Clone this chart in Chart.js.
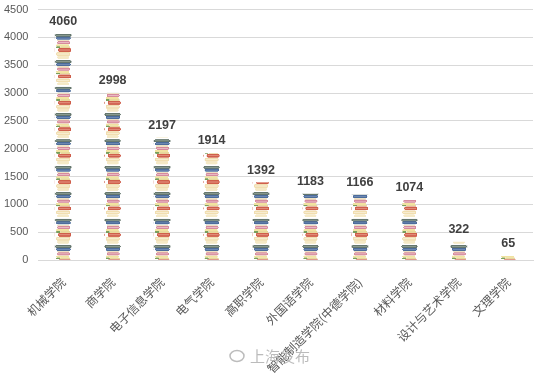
<!DOCTYPE html>
<html>
<head>
<meta charset="utf-8">
<script src="https://cdn.jsdelivr.net/npm/chart.js@4"></script>
<style>
  html, body { margin: 0; padding: 0; background: #fff; }
  #wrap { width: 538px; height: 373px; }
</style>
</head>
<body>
<div id="wrap"><canvas id="chart" width="538" height="373"></canvas></div>
<script>
var colleges = ['机械学院', '商学院', '电子信息学院', '电气学院', '高职学院', '外国语学院', '智能制造学院(中德学院)', '材料学院', '设计与艺术学院', '文理学院'];
var students = [4060, 2998, 2197, 1914, 1392, 1183, 1166, 1074, 322, 65];
var yTicks = [0, 500, 1000, 1500, 2000, 2500, 3000, 3500, 4000, 4500];

var BAR_W = 16;
var PERIOD = 26.4;   // height of one stack of books, px
var SCALE = 4;

// one stack of books, drawn at 4x and scaled down by the pattern
function makeBookTile() {
  var c = document.createElement('canvas');
  c.width = BAR_W * SCALE;
  c.height = Math.round(PERIOD * SCALE);
  var g = c.getContext('2d');
  g.scale(SCALE, c.height / PERIOD);

  function book(x, y, w, h, color, edge) {
    g.fillStyle = color;
    g.beginPath();
    g.roundRect(x, y, w, h, Math.min(h / 2, 1.5));
    g.fill();
    if (edge) {
      g.fillStyle = edge;
      g.fillRect(x + 1, y + h * 0.35, w - 2, h * 0.3);
    }
  }
  book(0, 0, 16, 3, '#64766d', '#8a9a90');
  book(1, 2.8, 14.5, 3, '#4c6c9b', '#6d88b2');
  book(2, 6, 12, 1.5, '#efe1c2');
  book(2, 7.4, 13, 3, '#d68a9c', '#e9b8c4');
  book(1, 10.6, 13, 2, '#f1e3a0');
  book(1, 12.6, 4, 1.6, '#7a9f5c');
  book(5, 12.6, 10, 1.6, '#e8d89c');
  book(3, 14.3, 13, 3.8, '#cf5f4b', '#e08a78');
  book(1, 18.3, 14, 3.8, '#f1deb0', '#f7ecd0');
  book(2, 22.2, 12, 2.8, '#f5e9c6');
  return c;
}
var bookTile = makeBookTile();

function bookFill(ctx) {
  var chart = ctx.chart;
  var x = chart.scales.x, y = chart.scales.y;
  if (ctx.dataIndex === undefined || !x || !y || !chart.chartArea) return '#e8c9a0';
  var left = x.getPixelForValue(ctx.dataIndex) - BAR_W / 2;
  var base = y.getPixelForValue(0);
  var pat = chart.ctx.createPattern(bookTile, 'repeat');
  pat.setTransform(new DOMMatrix([1 / SCALE, 0, 0, PERIOD / bookTile.height, left, base - 15]));
  return pat;
}

// bold value above each bar
var valueLabels = {
  id: 'valueLabels',
  afterDatasetsDraw: function(chart) {
    var ctx = chart.ctx;
    var meta = chart.getDatasetMeta(0);
    ctx.save();
    ctx.font = 'bold 12.5px "Liberation Sans", Arial, sans-serif';
    ctx.fillStyle = '#404040';
    ctx.textAlign = 'center';
    ctx.textBaseline = 'alphabetic';
    meta.data.forEach(function(bar, i) {
      ctx.fillText(students[i], bar.x, bar.y - 9);
    });
    ctx.restore();
  }
};

// faint source mark at the bottom
var sourceMark = {
  id: 'sourceMark',
  afterDraw: function(chart) {
    var ctx = chart.ctx;
    ctx.save();
    ctx.strokeStyle = 'rgba(160,160,160,0.7)';
    ctx.lineWidth = 1.5;
    ctx.beginPath();
    ctx.ellipse(237, 356, 7, 5.5, 0, 0, Math.PI * 2);
    ctx.stroke();
    ctx.font = '15px "Noto Sans CJK SC", sans-serif';
    ctx.fillStyle = 'rgba(175,175,175,0.85)';
    ctx.textBaseline = 'middle';
    ctx.fillText('上海发布', 250, 356);
    ctx.restore();
  }
};

var chart = new Chart(document.getElementById('chart'), {
  type: 'bar',
  data: {
    labels: colleges,
    datasets: [{
      data: students,
      backgroundColor: bookFill,
      borderWidth: 0,
      barThickness: BAR_W
    }]
  },
  options: {
    responsive: false,
    animation: false,
    layout: { padding: { top: 0, right: 5, left: 1, bottom: 0 } },
    plugins: {
      legend: { display: false },
      tooltip: { enabled: false }
    },
    scales: {
      x: {
        grid: { display: false },
        border: { color: '#d9d9d9' },
        afterFit: function(axis) {
          axis.height = 113;
        },
        ticks: {
          minRotation: 45,
          maxRotation: 45,
          autoSkip: false,
          padding: 7,
          color: '#595959',
          font: { family: '"Noto Sans CJK SC", sans-serif', size: 12 }
        }
      },
      y: {
        min: 0,
        max: 4500,
        afterBuildTicks: function(axis) {
          axis.ticks = yTicks.map(function(v) { return { value: v }; });
        },
        grid: { color: '#d9d9d9', tickColor: 'rgba(0,0,0,0)', tickLength: 7 },
        border: { display: false },
        ticks: {
          padding: 3,
          color: '#595959',
          font: { family: '"Liberation Sans", Arial, sans-serif', size: 11 },
          callback: function(v) { return String(v); }
        }
      }
    }
  },
  plugins: [valueLabels, sourceMark]
});
</script>
</body>
</html>
